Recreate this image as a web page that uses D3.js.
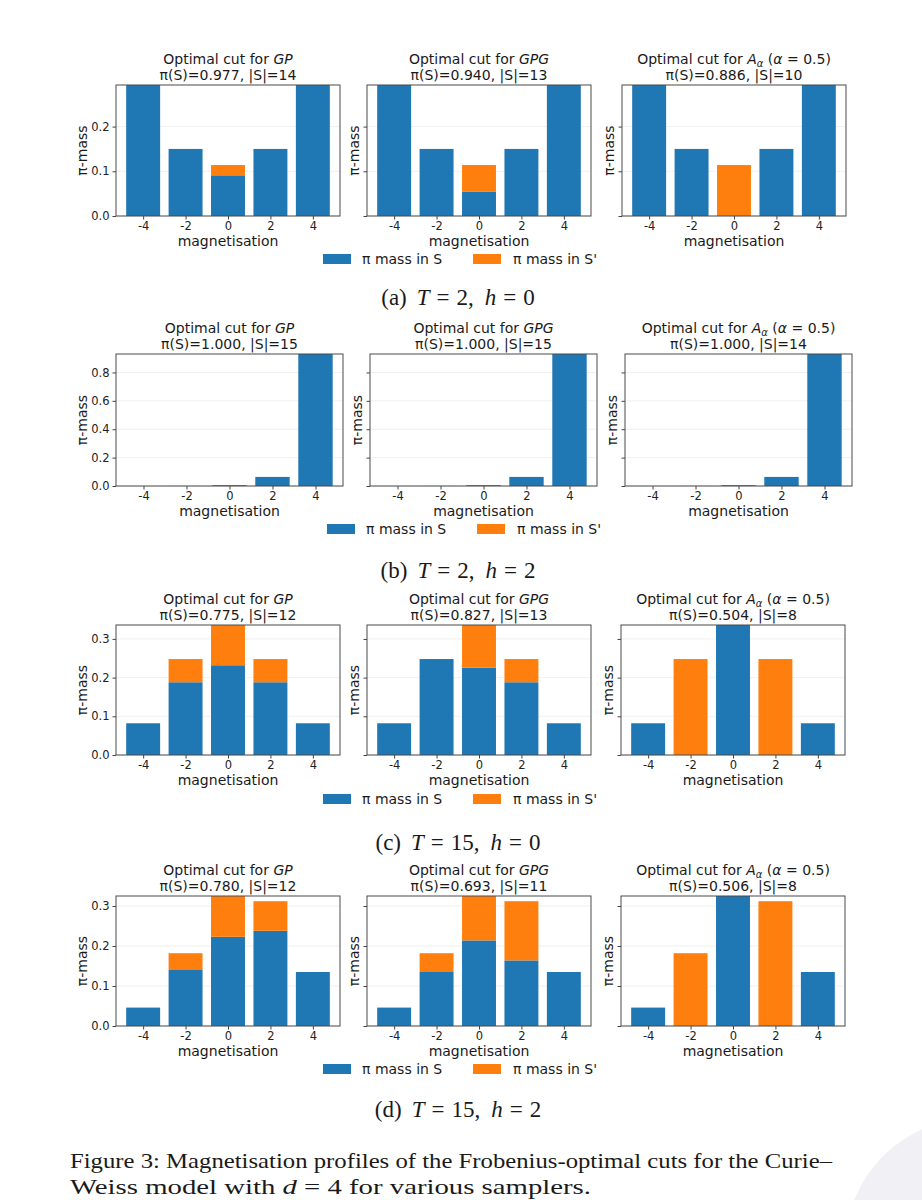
<!DOCTYPE html>
<html>
<head>
<meta charset="utf-8">
<script src="https://cdn.jsdelivr.net/npm/d3@7"></script>
<style>
  body { margin: 0; background: #fff; }
  svg { display: block; }
  .tick text { font-family: "DejaVu Sans", sans-serif; font-size: 11.5px; fill: #222; }
  .tick line { stroke: #444; }
  .lbl { font-family: "DejaVu Sans", sans-serif; font-size: 14px; fill: #1a1a1a; }
  .cap { font-family: "Liberation Serif", "DejaVu Serif", serif; fill: #1a1a1a; }
</style>
</head>
<body>
<div id="chart"></div>
<script>
const magnetisation = [-4, -2, 0, 2, 4];
const samplers = ['GP', 'GPG', 'A'];

// (a) T = 2, h = 0   — one array per sampler: GP, GPG, A_alpha
const massS_a = [[0.293, 0.150, 0.091, 0.150, 0.293], [0.293, 0.150, 0.054, 0.150, 0.293], [0.293, 0.150, 0, 0.150, 0.293]];
const massSp_a = [[0, 0, 0.023, 0, 0], [0, 0, 0.060, 0, 0], [0, 0, 0.114, 0, 0]];
const piS_a = ['0.977', '0.940', '0.886'];
const sizeS_a = [14, 13, 10];

// (b) T = 2, h = 2
const massS_b = [[0.0000, 0.0004, 0.006, 0.064, 0.930], [0.0000, 0.0004, 0.006, 0.064, 0.930], [0.0000, 0.0004, 0.006, 0.064, 0.930]];
const massSp_b = [[0, 0, 0, 0, 0], [0, 0, 0, 0, 0], [0, 0, 0, 0, 0]];
const piS_b = ['1.000', '1.000', '1.000'];
const sizeS_b = [15, 15, 14];

// (c) T = 15, h = 0
const massS_c = [[0.082, 0.188, 0.232, 0.188, 0.082], [0.082, 0.248, 0.226, 0.188, 0.082], [0.082, 0, 0.336, 0, 0.082]];
const massSp_c = [[0, 0.060, 0.104, 0.060, 0], [0, 0, 0.110, 0.060, 0], [0, 0.248, 0, 0.248, 0]];
const piS_c = ['0.775', '0.827', '0.504'];
const sizeS_c = [12, 13, 8];

// (d) T = 15, h = 2
const massS_d = [[0.046, 0.140, 0.223, 0.238, 0.135], [0.046, 0.135, 0.214, 0.164, 0.135], [0.046, 0, 0.325, 0, 0.135]];
const massSp_d = [[0, 0.042, 0.102, 0.074, 0], [0, 0.047, 0.111, 0.148, 0], [0, 0.182, 0, 0.312, 0]];
const piS_d = ['0.780', '0.693', '0.506'];
const sizeS_d = [12, 11, 8];

const yTicks_a = [0, 0.1, 0.2];
const yTicks_b = [0, 0.2, 0.4, 0.6, 0.8];
const yTicks_c = [0, 0.1, 0.2, 0.3];
const yTicks_d = [0, 0.1, 0.2, 0.3];

const captions = [
  { tag: '(a)', T: '2', h: '0' },
  { tag: '(b)', T: '2', h: '2' },
  { tag: '(c)', T: '15', h: '0' },
  { tag: '(d)', T: '15', h: '2' }
];

const colS = '#1f77b4', colSp = '#ff7f0e';

const rows = [
  { S: massS_a, Sp: massSp_a, pi: piS_a, n: sizeS_a, ticks: yTicks_a, top: 85, bottom: 216, lefts: [116, 367, 622], w: 224, leg: 259, legDx: 0, cap: 298 },
  { S: massS_b, Sp: massSp_b, pi: piS_b, n: sizeS_b, ticks: yTicks_b, top: 354, bottom: 486, lefts: [116, 370, 625], w: 227, leg: 529, legDx: 4, cap: 571 },
  { S: massS_c, Sp: massSp_c, pi: piS_c, n: sizeS_c, ticks: yTicks_c, top: 625, bottom: 755, lefts: [116, 367, 621], w: 224, leg: 799, legDx: 0, cap: 843 },
  { S: massS_d, Sp: massSp_d, pi: piS_d, n: sizeS_d, ticks: yTicks_d, top: 896, bottom: 1026, lefts: [116, 367, 621], w: 224, leg: 1069, legDx: 0, cap: 1110 }
];

const svg = d3.select('#chart').append('svg')
  .attr('width', 922)
  .attr('height', 1200);

// faint UI blob in the bottom-right corner of the screenshot
svg.append('circle')
  .attr('cx', 975).attr('cy', 1248).attr('r', 130)
  .attr('fill', '#f0f0f5');

rows.forEach((row, ri) => {
  const totals = row.S.map((s, k) => s.map((v, i) => v + row.Sp[k][i]));
  const ymax = d3.max(totals.flat());

  samplers.forEach((name, k) => {
    const left = row.lefts[k];
    const x = d3.scaleLinear().domain([-5.28, 5.28]).range([left, left + row.w]);
    const y = d3.scaleLinear().domain([0, ymax]).range([row.bottom, row.top]);
    const bw = x(1.6) - x(0);
    const g = svg.append('g');

    // grid
    g.selectAll('line.grid').data(row.ticks).enter().append('line')
      .attr('class', 'grid')
      .attr('x1', left).attr('x2', left + row.w)
      .attr('y1', d => y(d)).attr('y2', d => y(d))
      .attr('stroke', '#ececec').attr('stroke-width', 0.8);

    const data = magnetisation.map((m, i) => ({ m, s: row.S[k][i], sp: row.Sp[k][i] }));

    g.selectAll('rect.s').data(data).enter().append('rect')
      .attr('x', d => x(d.m) - bw / 2)
      .attr('width', bw)
      .attr('y', d => y(d.s))
      .attr('height', d => y(0) - y(d.s))
      .attr('fill', colS);

    g.selectAll('rect.sp').data(data.filter(d => d.sp > 0)).enter().append('rect')
      .attr('x', d => x(d.m) - bw / 2)
      .attr('width', bw)
      .attr('y', d => y(d.s + d.sp))
      .attr('height', d => y(d.s) - y(d.s + d.sp))
      .attr('fill', colSp);

    // axes
    const yAxis = d3.axisLeft(y).tickValues(row.ticks).tickSize(3.5).tickPadding(3)
      .tickFormat(k === 0 ? d3.format('.1f') : '');
    const ya = g.append('g').attr('transform', `translate(${left},0)`).call(yAxis);
    ya.select('.domain').remove();

    const xAxis = d3.axisBottom(x).tickValues(magnetisation).tickSize(3.5).tickPadding(2)
      .tickFormat(d => d < 0 ? '-' + Math.abs(d) : d);
    const xa = g.append('g').attr('transform', `translate(0,${row.bottom})`).call(xAxis);
    xa.select('.domain').remove();

    g.append('rect')
      .attr('x', left).attr('y', row.top)
      .attr('width', row.w).attr('height', row.bottom - row.top)
      .attr('fill', 'none').attr('stroke', '#4a4a4a').attr('stroke-width', 1);

    g.append('text').attr('class', 'lbl')
      .attr('x', left + row.w / 2).attr('y', row.bottom + 30)
      .attr('text-anchor', 'middle')
      .text('magnetisation');

    const ylx = k === 0 ? left - 34 : left - 13;
    g.append('text').attr('class', 'lbl')
      .attr('transform', `translate(${ylx},${(row.top + row.bottom) / 2}) rotate(-90)`)
      .attr('text-anchor', 'middle').attr('dy', '0.35em')
      .text('π-mass');

    // title
    const t1 = g.append('text').attr('class', 'lbl')
      .attr('x', left + row.w / 2).attr('y', row.top - 21)
      .attr('text-anchor', 'middle');
    t1.append('tspan').text('Optimal cut for ');
    if (name === 'A') {
      t1.append('tspan').attr('font-style', 'italic').text('A');
      t1.append('tspan').attr('font-style', 'italic').attr('font-size', '10px').attr('dy', 3).text('α');
      t1.append('tspan').attr('dy', -3).text(' (');
      t1.append('tspan').attr('font-style', 'italic').text('α');
      t1.append('tspan').text(' = 0.5)');
    } else {
      t1.append('tspan').attr('font-style', 'italic').text(name);
    }
    g.append('text').attr('class', 'lbl')
      .attr('x', left + row.w / 2).attr('y', row.top - 5)
      .attr('text-anchor', 'middle')
      .text(`π(S)=${row.pi[k]}, |S|=${row.n[k]}`);
  });

  // legend
  const lg = svg.append('g').attr('transform', `translate(${row.legDx},${row.leg})`);
  lg.append('rect').attr('x', 323).attr('y', -5).attr('width', 28).attr('height', 10).attr('fill', colS);
  lg.append('text').attr('class', 'lbl').attr('x', 362).attr('y', 5).text('π mass in S');
  lg.append('rect').attr('x', 473).attr('y', -5).attr('width', 28).attr('height', 10).attr('fill', colSp);
  lg.append('text').attr('class', 'lbl').attr('x', 513).attr('y', 5).text("π mass in S'");

  // sub-caption, math-style spacing
  const c = captions[ri];
  const ct = svg.append('text').attr('class', 'cap')
    .attr('x', 365).attr('y', row.cap + 7)
    .attr('font-size', '23px');
  ct.append('tspan').text(c.tag);
  ct.append('tspan').attr('dx', 10).attr('font-style', 'italic').text('T');
  ct.append('tspan').attr('dx', 7).text('=');
  ct.append('tspan').attr('dx', 7).text(c.T + ',');
  ct.append('tspan').attr('dx', 11).attr('font-style', 'italic').text('h');
  ct.append('tspan').attr('dx', 7).text('=');
  ct.append('tspan').attr('dx', 7).text(c.h);
  // centre the caption on the figure
  const bb = ct.node().getBBox();
  ct.attr('x', 458 - bb.width / 2);
});

// figure caption
svg.append('text').attr('class', 'cap')
  .attr('x', 70).attr('y', 1168).attr('font-size', '21px')
  .attr('textLength', 762).attr('lengthAdjust', 'spacingAndGlyphs')
  .text('Figure 3: Magnetisation profiles of the Frobenius-optimal cuts for the Curie–');
const f2 = svg.append('text').attr('class', 'cap')
  .attr('x', 70).attr('y', 1194).attr('font-size', '21px')
  .attr('textLength', 521).attr('lengthAdjust', 'spacingAndGlyphs');
f2.append('tspan').text('Weiss model with ');
f2.append('tspan').attr('font-style', 'italic').text('d');
f2.append('tspan').text(' = 4 for various samplers.');
</script>
</body>
</html>
